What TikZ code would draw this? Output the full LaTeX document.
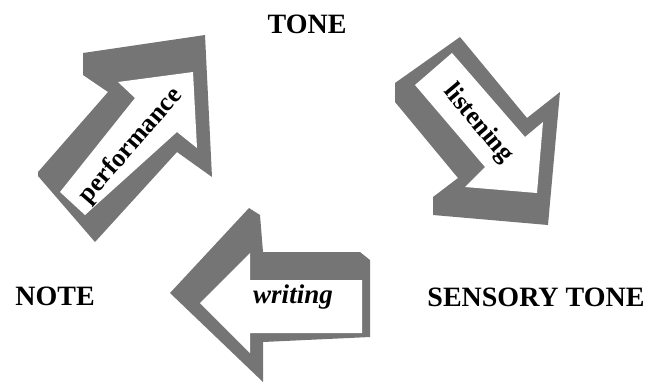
\documentclass[tikz,border=0pt]{standalone}
\usepackage{fontspec}
\setmainfont{Liberation Serif}
\definecolor{arrowgray}{RGB}{117,117,117}
\begin{document}
\begin{tikzpicture}[x=1pt,y=-1pt,
  back/.style={fill=arrowgray,draw=none},
  front/.style={fill=white,draw=none},
  lbl/.style={font=\fontsize{28}{30}\selectfont\bfseries,inner sep=0pt},
  arrowtxt/.style={font=\fontsize{26}{28}\selectfont\bfseries,inner sep=0pt}]
\useasboundingbox (0,0) rectangle (652,383);
% performance arrow
\fill[back] (83,53) -- (205,35) -- (212,177) -- (177,152) -- (95,242) -- (38,176) -- (38,172) -- (108,92) -- (83,75) -- cycle;
\fill[front] (193,72) -- (118,82) -- (135,98) -- (60,192) -- (85,215) -- (177,132) -- (197,148) -- cycle;
% listening arrow
\fill[back] (395,83) -- (460,37) -- (527,118) -- (560,92) -- (548,225) -- (433,215) -- (433,197) -- (458,178) -- (395,102) -- cycle;
\fill[front] (415,85) -- (452,53) -- (525,137) -- (543,122) -- (537,193) -- (465,187) -- (485,167) -- cycle;
% writing arrow
\fill[back] (170,293) -- (249,208) -- (260,215) -- (263,252) -- (360,252) -- (370,260) -- (370,337) -- (263,342) -- (263,382) -- cycle;
\fill[front] (200,303) -- (250,253) -- (250,280) -- (362,280) -- (362,333) -- (250,333) -- (250,353) -- cycle;
% labels
\node[lbl] (tone) at (307,24) {TONE};
\node[lbl] (note) at (55,296) {NOTE};
\node[lbl] (sensory) at (536,297) {SENSORY TONE};
\node[arrowtxt,rotate=49] (perf) at (131,146) {performance};
\node[arrowtxt,rotate=-50] (listen) at (478,124) {listening};
\node[arrowtxt,font=\fontsize{27}{29}\selectfont\bfseries\itshape] (writ) at (293,297) {writing};
\end{tikzpicture}
\end{document}
